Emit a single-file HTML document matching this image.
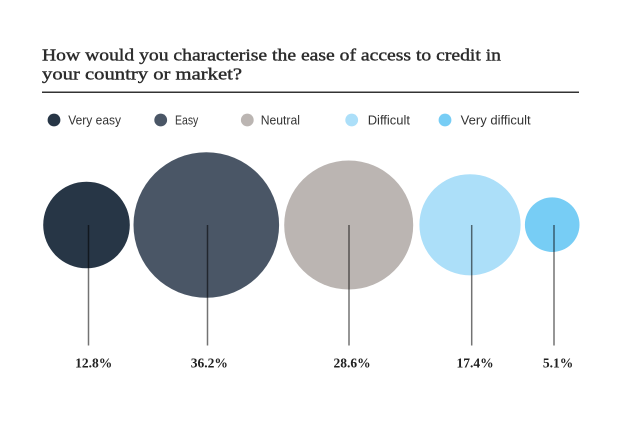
<!DOCTYPE html>
<html>
<head>
<meta charset="utf-8">
<style>
  html, body { margin: 0; padding: 0; background: #ffffff; }
  body { width: 620px; height: 432px; overflow: hidden; }
  svg { display: block; }
</style>
</head>
<body>
<svg width="620" height="432" viewBox="0 0 620 432" xmlns="http://www.w3.org/2000/svg">
  <rect width="620" height="432" fill="#ffffff"/>

  <!-- Title -->
  <g font-family="'Liberation Serif', serif" font-size="17" fill="#2b2b2b" stroke="#2b2b2b" stroke-width="0.4">
    <text x="42" y="60.7" textLength="459" lengthAdjust="spacingAndGlyphs">How would you characterise the ease of access to credit in</text>
    <text x="42" y="79.5" textLength="200" lengthAdjust="spacingAndGlyphs">your country or market?</text>
  </g>

  <!-- Rule -->
  <line x1="42" y1="92.3" x2="579" y2="92.3" stroke="#333333" stroke-width="1.5"/>

  <!-- Legend -->
  <g font-family="'Liberation Sans', sans-serif" font-size="13" fill="#333333">
    <circle cx="54" cy="120" r="6.4" fill="#273646"/>
    <text x="68.3" y="124.5" textLength="52.7" lengthAdjust="spacingAndGlyphs">Very easy</text>
    <circle cx="160.7" cy="120" r="6.4" fill="#4a5666"/>
    <text x="175" y="124.5" textLength="23.3" lengthAdjust="spacingAndGlyphs">Easy</text>
    <circle cx="247.3" cy="120" r="6.4" fill="#bbb5b2"/>
    <text x="260.7" y="124.5" textLength="39.3" lengthAdjust="spacingAndGlyphs">Neutral</text>
    <circle cx="351.7" cy="120" r="6.4" fill="#acdff9"/>
    <text x="367.7" y="124.5" textLength="42.3" lengthAdjust="spacingAndGlyphs">Difficult</text>
    <circle cx="445" cy="120" r="6.4" fill="#77cdf5"/>
    <text x="460.7" y="124.5" textLength="70" lengthAdjust="spacingAndGlyphs">Very difficult</text>
  </g>

  <!-- Bubbles -->
  <circle cx="86.5" cy="225" r="43.3" fill="#273646"/>
  <circle cx="206.3" cy="225" r="72.8" fill="#4a5666"/>
  <circle cx="348.7" cy="225" r="64.5" fill="#bbb5b2"/>
  <circle cx="470" cy="224.8" r="50.6" fill="#acdff9"/>
  <circle cx="552.2" cy="224.7" r="27.3" fill="#77cdf5"/>

  <!-- Lines -->
  <g stroke="#000000" stroke-opacity="0.55" stroke-width="1.5">
    <line x1="88.5" y1="225" x2="88.5" y2="345.5"/>
    <line x1="207.5" y1="225" x2="207.5" y2="345.5"/>
    <line x1="349" y1="225" x2="349" y2="345.5"/>
    <line x1="471.7" y1="225" x2="471.7" y2="345.5"/>
    <line x1="554" y1="225" x2="554" y2="345.5"/>
  </g>

  <!-- Value labels -->
  <g font-family="'Liberation Serif', serif" font-size="13.5" font-weight="bold" fill="#222222" text-anchor="middle">
    <text x="93.7" y="367.5">12.8%</text>
    <text x="209.3" y="367.5">36.2%</text>
    <text x="352" y="367.5">28.6%</text>
    <text x="475" y="367.5">17.4%</text>
    <text x="558" y="367.5">5.1%</text>
  </g>
</svg>
</body>
</html>
